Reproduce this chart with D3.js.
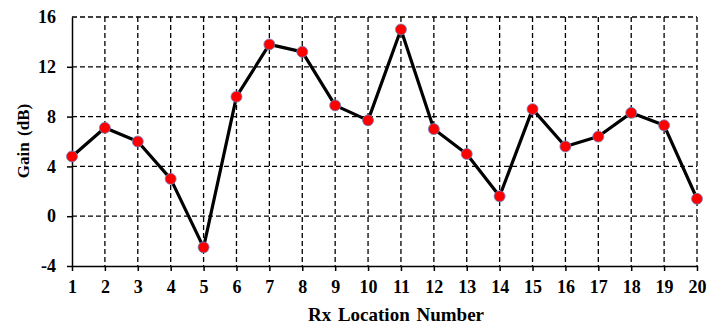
<!DOCTYPE html>
<html>
<head>
<meta charset="utf-8">
<script src="https://cdn.jsdelivr.net/npm/d3@7"></script>
<style>
  body { margin: 0; background: #fff; }
  text { font-family: "Liberation Serif", "Times New Roman", serif; font-weight: bold; }
</style>
</head>
<body>
<svg width="707" height="327"></svg>
<script>
// data
var locations = [1, 2, 3, 4, 5, 6, 7, 8, 9, 10, 11, 12, 13, 14, 15, 16, 17, 18, 19, 20];
var gains = [4.8, 7.1, 6.0, 3.0, -2.5, 9.6, 13.8, 13.2, 8.9, 7.7, 15.0, 7.0, 5.0, 1.6, 8.6, 5.6, 6.4, 8.3, 7.3, 1.4];
var yTicks = [-4, 0, 4, 8, 12, 16];

var svg = d3.select("svg");

var x = d3.scaleLinear().domain([1, 20]).range([72, 697]);
var y = d3.scaleLinear().domain([-4, 16]).range([266, 17]);

// dashed grid
var grid = svg.append("g")
    .attr("stroke", "#000")
    .attr("stroke-width", 1.3)
    .attr("stroke-dasharray", "5,3");

grid.selectAll("line.h")
    .data(yTicks.filter(function(d) { return d > -4; }))
    .enter().append("line")
    .attr("x1", x(1)).attr("x2", x(20))
    .attr("y1", function(d) { return y(d); })
    .attr("y2", function(d) { return y(d); });

grid.selectAll("line.v")
    .data(locations.slice(1))
    .enter().append("line")
    .attr("x1", function(d) { return x(d); })
    .attr("x2", function(d) { return x(d); })
    .attr("y1", y(16)).attr("y2", y(-4));

// axes
var xAxis = svg.append("g")
    .attr("transform", "translate(0," + y(-4) + ")")
    .call(d3.axisBottom(x).tickValues(locations).tickFormat(function(d) { return String(d); }).tickSizeInner(5).tickSizeOuter(0).tickPadding(9));

var yAxis = svg.append("g")
    .attr("transform", "translate(" + x(1) + ",0)")
    .call(d3.axisLeft(y).tickValues(yTicks).tickFormat(function(d) { return String(d); }).tickSizeInner(5).tickSizeOuter(0).tickPadding(11));

[xAxis, yAxis].forEach(function(a) {
  a.select(".domain").attr("stroke", "#000").attr("stroke-width", 1.5);
  a.selectAll(".tick line").attr("stroke", "#000").attr("stroke-width", 1.5);
  a.selectAll(".tick text")
      .attr("fill", "#000")
      .attr("font-size", 18)
      .attr("font-family", "Liberation Serif, Times New Roman, serif")
      .attr("font-weight", "bold");
});
yAxis.selectAll(".tick").filter(function(d) { return d === 16; }).select("line").remove();

// line and markers
var line = d3.line()
    .x(function(d, i) { return x(locations[i]); })
    .y(function(d) { return y(d); });

svg.append("path")
    .datum(gains)
    .attr("d", line)
    .attr("fill", "none")
    .attr("stroke", "#000")
    .attr("stroke-width", 3.2)
    .attr("stroke-linejoin", "round");

svg.append("g")
    .selectAll("circle")
    .data(gains)
    .enter().append("circle")
    .attr("cx", function(d, i) { return x(locations[i]); })
    .attr("cy", function(d) { return y(d); })
    .attr("r", 5.5)
    .attr("fill", "#ff0000")
    .attr("stroke", "#6b86c9")
    .attr("stroke-width", 0.8);

// titles
svg.append("text")
    .attr("x", 396)
    .attr("y", 321)
    .attr("text-anchor", "middle")
    .attr("font-size", 19)
    .attr("word-spacing", 2)
    .text("Rx Location Number");

svg.append("text")
    .attr("transform", "translate(29," + 141 + ") rotate(-90)")
    .attr("text-anchor", "middle")
    .attr("font-size", 17)
    .attr("word-spacing", 2)
    .text("Gain (dB)");
</script>
</body>
</html>
